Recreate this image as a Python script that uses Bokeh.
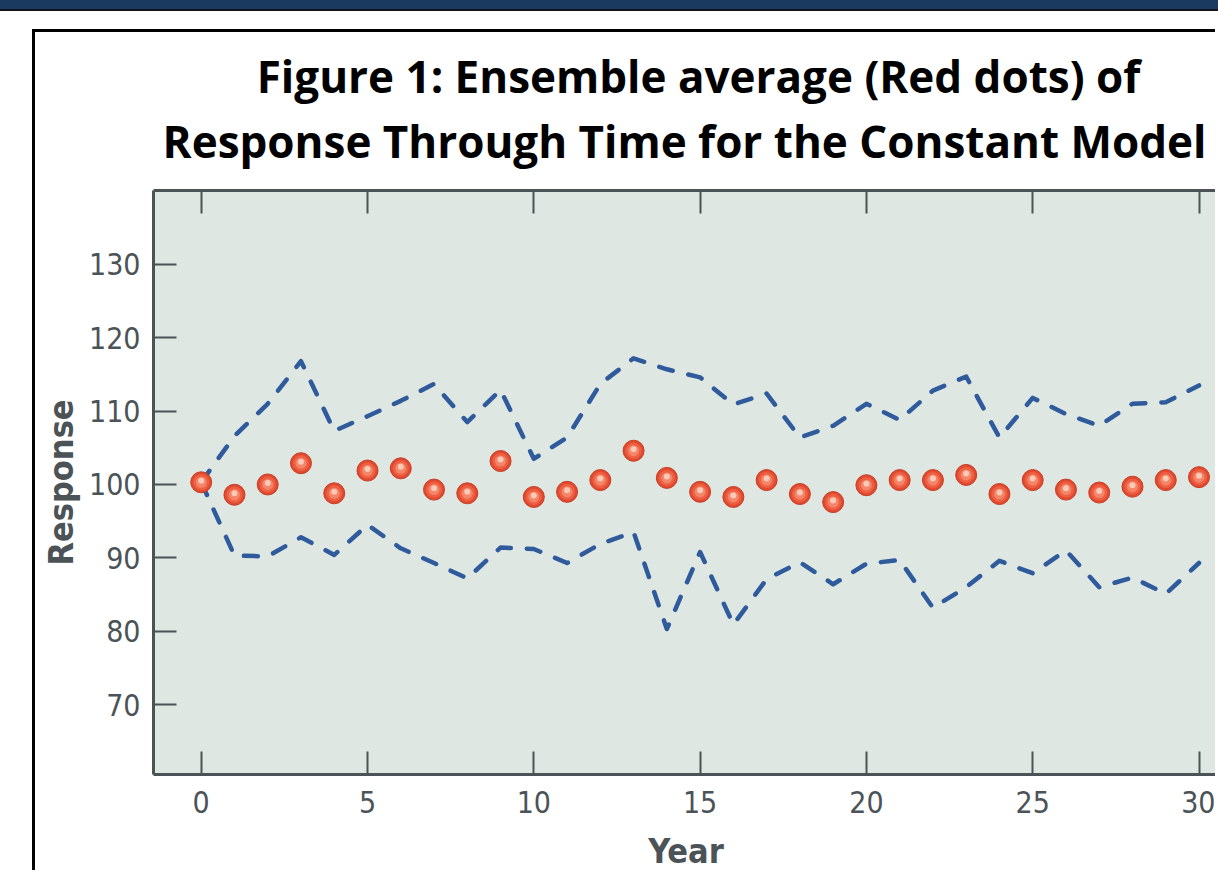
from bokeh.plotting import figure
from bokeh.models import LinearAxis, FixedTicker, Label, Range1d, InlineStyleSheet
from bokeh.embed import file_html
from bokeh.resources import INLINE

# ---- data ----
years = list(range(0, 31))
ensemble_avg = [100.3, 98.6, 100.0, 102.9, 98.8, 101.9, 102.2, 99.3, 98.8, 103.2,
                98.3, 99.0, 100.6, 104.6, 100.9, 99.0, 98.3, 100.6, 98.7, 97.6,
                99.9, 100.6, 100.6, 101.3, 98.7, 100.6, 99.3, 98.9, 99.7, 100.6, 101.0]
upper_band = [100.3, 106.6, 111.0, 116.8, 107.3, 109.3, 111.4, 113.7, 108.5, 112.9,
              103.5, 106.4, 113.7, 117.2, 115.7, 114.6, 110.9, 112.4, 106.4, 108.0,
              111.0, 108.8, 112.8, 114.7, 106.4, 111.8, 109.6, 108.0, 111.0, 111.2, 113.5]
lower_band = [100.3, 90.3, 90.2, 92.8, 90.4, 94.5, 91.3, 89.3, 87.2, 91.4,
              91.2, 89.3, 91.9, 93.5, 80.3, 90.8, 80.9, 87.1, 89.4, 86.4,
              89.2, 89.7, 83.2, 86.0, 89.6, 87.9, 91.0, 86.0, 87.3, 85.1, 89.3]
x_ticks = [0, 5, 10, 15, 20, 25, 30]
y_ticks = [70, 80, 90, 100, 110, 120, 130]
title_lines = ["Figure 1: Ensemble average (Red dots) of",
               "Response Through Time for the Constant Model"]

AXIS_COLOR = "#4b5357"
COND_FONT = "DejaVu Sans Condensed"

p = figure(width=1183, height=841, output_backend="svg", toolbar_location=None,
           x_range=Range1d(-1.434, 30.586), y_range=Range1d(60.47, 140.07),
           min_border_left=118, min_border_right=0, min_border_top=158, min_border_bottom=94,
           background_fill_color="#dee7e1", border_fill_color="white",
           outline_line_color=None)
# slide frame: black border on the left and top of the figure, navy bar at the top of the page
p.styles = {"margin-left": "32px", "margin-top": "29px",
            "border-left": "3px solid black", "border-top": "3px solid black"}
p.stylesheets = [InlineStyleSheet(css=(
    ":host::before { content: ''; position: fixed; top: 0; left: 0; width: 100%; "
    "height: 9px; background: #1b3a60; border-bottom: 2px solid #10141c; z-index: 5; }"))]
p.xgrid.visible = False
p.ygrid.visible = False

top_axis = LinearAxis()
p.add_layout(top_axis, "above")

bottom_axis = p.below[0]
left_axis = p.left[0]

bottom_axis.ticker = FixedTicker(ticks=x_ticks)
top_axis.ticker = FixedTicker(ticks=x_ticks)
left_axis.ticker = FixedTicker(ticks=y_ticks)

for ax in (bottom_axis, left_axis, top_axis):
    ax.axis_line_color = AXIS_COLOR
    ax.axis_line_width = 3
    ax.major_tick_line_color = AXIS_COLOR
    ax.major_tick_line_width = 2
    ax.major_tick_in = 23
    ax.major_tick_out = 0
    ax.minor_tick_line_color = None
    ax.major_label_text_font = COND_FONT
    ax.major_label_text_font_size = "30px"
    ax.major_label_text_color = AXIS_COLOR
    ax.axis_label_text_font = COND_FONT
    ax.axis_label_text_font_size = "34px"
    ax.axis_label_text_font_style = "bold"
    ax.axis_label_text_color = AXIS_COLOR

top_axis.major_label_text_font_size = "0px"
top_axis.major_label_text_alpha = 0

bottom_axis.axis_label = "Year"
bottom_axis.major_label_standoff = 16
bottom_axis.axis_label_standoff = 15
left_axis.axis_label = "Response"
left_axis.major_label_standoff = 13
left_axis.axis_label_standoff = 5

# dashed envelope lines
for band in (upper_band, lower_band):
    p.line(years, band, line_color="#2f5b9d", line_width=4.5, line_dash="14 16",
           line_cap="round", line_join="round")

# red "sphere" dots
p.scatter(years, ensemble_avg, size=21, fill_color="#e24a2f", line_color="#c73c26", line_width=1)
p.scatter(years, ensemble_avg, size=16, fill_color="#ee6346", line_color=None, fill_alpha=0.9)
p.scatter(years, ensemble_avg, size=11, fill_color="#f58c6f", line_color=None, fill_alpha=0.85)
p.scatter(years, [v + 0.2 for v in ensemble_avg], size=6, fill_color="#fcd0bf", line_color=None, fill_alpha=0.9)

# title, two lines (placed in the top panel so they are not clipped to the plot frame)
for txt, xc, yb in zip(title_lines, (660, 646), (40, 105)):
    p.add_layout(Label(x=xc, y=yb, x_units="canvas", y_units="canvas", text=txt,
                       text_font="Open Sans", text_font_style="bold", text_font_size="44px",
                       text_align="center", text_baseline="alphabetic", text_color="black"),
                 "above")

open("out.html", "w").write(file_html(p, INLINE))
